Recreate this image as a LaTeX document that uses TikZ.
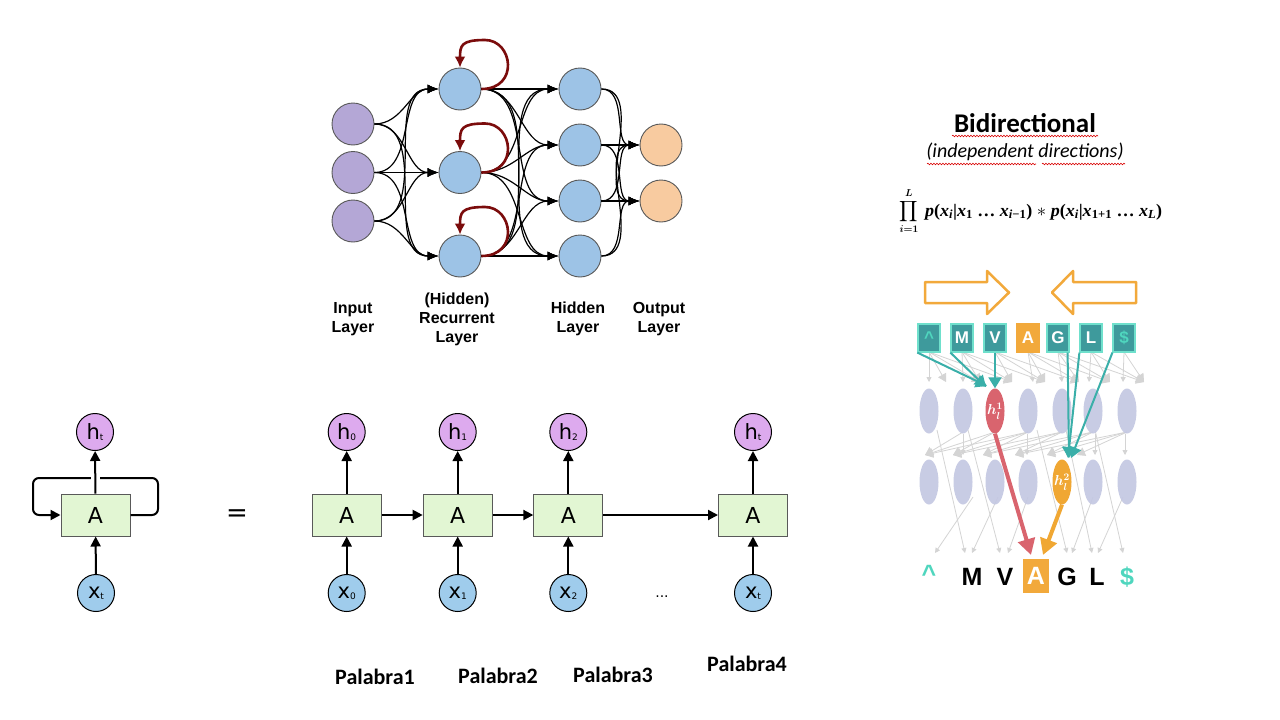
\documentclass[tikz,border=0pt]{standalone}
\usepackage{amsmath}
\usepackage{graphicx}
\usepackage{fontspec}
\setmainfont{Liberation Sans}
\newfontfamily\carlito{Carlito}
\newfontfamily\dejavu{DejaVu Sans}
\newfontfamily\formfont{Liberation Serif}
\usetikzlibrary{arrows.meta,decorations.pathmorphing,shapes.geometric,calc}
\definecolor{inpurple}{HTML}{B4A7D6}
\definecolor{netblue}{HTML}{9DC3E6}
\definecolor{outorange}{HTML}{F8CBA0}
\definecolor{nborder}{HTML}{595959}
\definecolor{loopred}{HTML}{7B0C0C}
\definecolor{hpurple}{HTML}{DDAAEE}
\definecolor{xblue}{HTML}{9FCCEC}
\definecolor{boxgreen}{HTML}{E2F6D3}
\definecolor{borange}{HTML}{F2A93B}
\definecolor{tealbox}{HTML}{3E9A9C}
\definecolor{tealedge}{HTML}{6FE0CC}
\definecolor{teallight}{HTML}{4FD6BE}
\definecolor{tealarrow}{HTML}{3AAFA9}
\definecolor{ellgray}{HTML}{C3C7E2}
\definecolor{hredc}{HTML}{D9646E}
\definecolor{horangec}{HTML}{F0A733}
\definecolor{lgray}{HTML}{D4D4D4}
\tikzset{
  neuron/.style={circle, draw=nborder, line width=0.9pt, minimum size=42pt, inner sep=0pt},
  nin/.style={neuron, fill=inpurple},
  nrec/.style={neuron, fill=netblue},
  nout/.style={neuron, fill=outorange},
  nedge/.style={-{Latex[length=11pt,width=9pt]}, line width=1.2pt, black},
  selfloop/.style={draw=loopred, line width=2.6pt, -{Latex[length=11pt,width=11pt]}},
  lbl/.style={align=center, font=\bfseries\fontsize{16}{19}\selectfont},
  hcirc/.style={circle, draw=black, line width=1pt, fill=hpurple, minimum size=37pt, inner sep=0pt, font=\dejavu},
  xcirc/.style={circle, draw=black, line width=1pt, fill=xblue, minimum size=37pt, inner sep=0pt, font=\dejavu},
  abox/.style={rectangle, draw=nborder, line width=1pt, fill=boxgreen, minimum width=69pt, minimum height=42pt, inner sep=0pt, font=\dejavu\fontsize{22}{22}\selectfont},
  rarr/.style={-{Triangle[length=10pt,width=10pt]}, line width=2pt, black},
  pal/.style={font=\carlito\bfseries\fontsize{22}{24}\selectfont},
  hollowarr/.style={draw=borange, line width=2.5pt, fill=white, line join=round},
  lbox/.style={rectangle, fill=tealbox, draw=tealedge, line width=1.2pt, minimum width=22pt, minimum height=28pt, inner sep=0pt, text=white, font=\bfseries\fontsize{17}{17}\selectfont},
  ellnode/.style={ellipse, fill=ellgray, minimum width=19pt, minimum height=45pt, inner sep=0pt},
  garr/.style={draw=lgray, line width=0.8pt, -{Triangle[length=8pt,width=9pt]}},
  garrs/.style={draw=lgray, line width=0.8pt, -{Triangle[length=5pt,width=5pt]}},
  tarr/.style={draw=tealarrow, line width=2pt, -{Triangle[length=11pt,width=13pt]}},
  bigarr/.style={line width=4pt, -{Triangle[length=16pt,width=17pt]}},
  botl/.style={font=\bfseries\fontsize{25}{25}\selectfont},
  hlab/.style={text=white, font=\fontsize{14}{14}\selectfont, inner sep=0pt},
  squig/.style={draw=red!85!black, line width=0.6pt, decorate, decoration={snake, amplitude=0.8pt, segment length=3pt}}
}
\newcommand{\hsub}[2]{#1\raisebox{-0.05em}{\fontsize{9}{9}\selectfont #2}}
\newcommand{\fmi}[1]{\textit{#1}}
\newcommand{\fsb}[1]{\textsubscript{#1}}
\begin{document}
\begin{tikzpicture}[x=1pt,y=-1pt]
\useasboundingbox (0,0) rectangle (1280,720);
\fill[white] (0,0) rectangle (1280,720);

% ---------------- top network ----------------
\node[nin] (i1) at (353,124) {};
\node[nin] (i2) at (353,172.5) {};
\node[nin] (i3) at (353,221) {};
\node[nrec] (r1) at (460,89) {};
\node[nrec] (r2) at (460,172.5) {};
\node[nrec] (r3) at (460,256) {};
\node[nrec] (d1) at (580,89) {};
\node[nrec] (d2) at (580,145) {};
\node[nrec] (d3) at (580,201) {};
\node[nrec] (d4) at (580,256) {};
\node[nout] (o1) at (661,145) {};
\node[nout] (o2) at (661,201) {};
\foreach \a in {1,2,3}{\foreach \b in {1,2,3}{\draw[nedge] (i\a.east) to[out=0,in=180] (r\b.west);}}
\foreach \a in {1,2,3}{\foreach \b in {1,2,3,4}{\draw[nedge] (r\a.east) to[out=0,in=180] (d\b.west);}}
\foreach \a in {1,2,3,4}{\foreach \b in {1,2}{\draw[nedge] (d\a.east) to[out=0,in=180] (o\b.west);}}
\foreach \rr in {r1,r2,r3}{
  \coordinate (\rr top) at ($(\rr)+(25,-49)$);
  \draw[selfloop] (\rr.east) .. controls +(38,0) and +(28,0) .. (\rr top) .. controls +(-24,0) and +(0,-22) .. (\rr.north);
}
\node[lbl] (lin) at (353,319) {Input\\Layer};
\node[lbl] (lrec) at (457,319) {(Hidden)\\Recurrent\\Layer};
\node[lbl] (lhid) at (578,319) {Hidden\\Layer};
\node[lbl] (lout) at (659,319) {Output\\Layer};

% ---------------- folded RNN ----------------
\node[hcirc] (hL) at (95,432) {\fontsize{21}{21}\selectfont\hsub{h}{t}};
\node[abox] (AL) at (95.5,515) {A};
\node[xcirc] (xL) at (96,593) {\fontsize{21}{21}\selectfont\hsub{x}{t}};
\coordinate (c1) at (158,515);
\coordinate (c2) at (158,478);
\coordinate (c3) at (33,478);
\coordinate (c4) at (33,515);
\draw[rarr, rounded corners=6pt] (AL.east) -- (c1) -- (c2) -- (c3) -- (c4) -- (AL.west);
\fill[white] (91,475) rectangle (100,481);
\draw[rarr] (xL) -- (AL);
\draw[rarr] (AL) -- (hL);
\node (eq) at (237,516) {\dejavu\fontsize{26}{26}\selectfont =};

% ---------------- unrolled RNN ----------------
\foreach \n/\xx/\s in {0/346.7/0, 1/457.7/1, 2/568.3/2, t/753/t}{
  \node[hcirc] (h\n) at (\xx,432) {\fontsize{21}{21}\selectfont\hsub{h}{\s}};
  \node[abox] (A\n) at (\xx,515) {A};
  \node[xcirc] (x\n) at (\xx,593) {\fontsize{21}{21}\selectfont\hsub{x}{\s}};
  \draw[rarr] (x\n) -- (A\n);
  \draw[rarr] (A\n) -- (h\n);
}
\draw[rarr] (A0) -- (A1);
\draw[rarr] (A1) -- (A2);
\draw[rarr] (A2) -- (At);
\node (dots) at (662,597) {\dejavu\fontsize{14}{14}\selectfont ...};
\node[pal] (p1) at (375,677) {Palabra1};
\node[pal] (p2) at (498,676) {Palabra2};
\node[pal] (p3) at (613,675) {Palabra3};
\node[pal] (p4) at (747,664) {Palabra4};

% ---------------- bidirectional ----------------
\node (bt) at (1025,123) {\carlito\bfseries\fontsize{27}{27}\selectfont Bidirectional};
\node (bs) at (1025,152) {\carlito\itshape\fontsize{20}{20}\selectfont (independent directions)};
\draw[squig] (952,136) -- (1098,136);
\draw[squig] (927,164) -- (1036,164);
\draw[squig] (1042,164) -- (1125,164);
\node[inner sep=0pt] (prodsym) at (909,211) {\fontsize{14}{14}\selectfont$\displaystyle\prod_{\boldsymbol{i=1}}^{\boldsymbol{L}}$};
\node[anchor=west, inner sep=0pt] (formula) at (925,212) {\resizebox*{237pt}{16pt}{\formfont\bfseries\fontsize{20}{20}\selectfont \fmi{p}(\fmi{x}\fsb{\fmi{i}}|\fmi{x}\fsb{1} … \fmi{x}\fsb{\fmi{i}−1}) $*$ \fmi{p}(\fmi{x}\fsb{\fmi{i}}|\fmi{x}\fsb{1+1} … \fmi{x}\fsb{\fmi{L}})}};

\draw[hollowarr] (925,282) -- (987,282) -- (987,271) -- (1009,292.5) -- (987,314) -- (987,303) -- (925,303) -- cycle;
\draw[hollowarr] (1136,282) -- (1073,282) -- (1073,271) -- (1052,292.5) -- (1073,314) -- (1073,303) -- (1136,303) -- cycle;

% gray arrows level A (boxes -> layer 1)
\coordinate (bb1) at (929,352);
\coordinate (bb2) at (962,352);
\coordinate (bb3) at (995,352);
\coordinate (bb4) at (1028,352);
\coordinate (bb5) at (1058,352);
\coordinate (bb6) at (1091,352);
\coordinate (bb7) at (1124,352);
\foreach \k/\xx in {1/929,2/963,4/1033,5/1062,6/1089,7/1123}{
  \draw[garrs] (bb\k) -- (\xx,382);
}
\foreach \k/\tx in {1/946,1/980,1/1012,2/980,2/1012,2/1045,3/1012,3/1045,3/1079,4/1045,4/1079,4/1110,5/1079,5/1110,5/1144,6/1110,6/1144,7/1144}{
  \draw[garr] (bb\k) -- (\tx,382);
}
% gray arrows level B (layer1 -> layer2, leftwards)
\foreach \sx/\tx in {963/925,995/925,995/953,1028/953,1028/983,1062/983,1062/1015,1093/1015,1093/1047,1127/1047,1127/1077,1028/925,1062/953,1093/983,1127/1015}{
  \draw[garr] (\sx,432) -- (\tx,455);
}
\foreach \xx in {963,1027,1095,1125}{\draw[garrs] (\xx,434) -- (\xx,455);}
% gray arrows level C (to bottom letters)
\foreach \ua/\ub in {937/965,968/1000,1037/1067,1066/1092,1095/1123}{\draw[garrs] (\ua,430) -- (\ub,553);}
\foreach \ua/\ub in {973/935,998/972,1028/1008,1093/1072,1123/1098}{\draw[garrs] (\ua,497) -- (\ub,553);}

% layer ellipses
\node[ellnode, fill opacity=0.9] (ea1) at (929,411) {};
\node[ellnode, fill opacity=0.9] (ea2) at (963,411) {};
\node[ellnode, fill=hredc] (ea3) at (995,411) {};
\node[ellnode, fill opacity=0.9] (ea4) at (1028,411) {};
\node[ellnode, fill opacity=0.9] (ea5) at (1062,411) {};
\node[ellnode, fill opacity=0.9] (ea6) at (1093,411) {};
\node[ellnode, fill opacity=0.9] (ea7) at (1127,411) {};
\node[hlab] (h1lab) at (995,411) {$\boldsymbol{h_l^1}$};
\node[ellnode, fill opacity=0.9] (eb1) at (929,482) {};
\node[ellnode, fill opacity=0.9] (eb2) at (963,482) {};
\node[ellnode, fill opacity=0.9] (eb3) at (995,482) {};
\node[ellnode, fill opacity=0.9] (eb4) at (1028,482) {};
\node[ellnode, fill=horangec] (eb5) at (1062,482) {};
\node[ellnode, fill opacity=0.9] (eb6) at (1093,482) {};
\node[ellnode, fill opacity=0.9] (eb7) at (1127,482) {};
\node[hlab] (h2lab) at (1062,482) {$\boldsymbol{h_l^2}$};

% letter boxes
\node[lbox, text=teallight] (b1) at (929,338) {\textasciicircum};
\node[lbox] (b2) at (962,338) {M};
\node[lbox] (b3) at (995,338) {V};
\node[lbox, fill=borange, draw=borange] (b4) at (1028,338) {A};
\node[lbox] (b5) at (1058,338) {G};
\node[lbox] (b6) at (1091,338) {L};
\node[lbox, text=teallight] (b7) at (1124,338) {\$};

% teal arrows
\coordinate (t1) at (987,386);
\coordinate (t2) at (986,387);
\coordinate (t5) at (1069,458);
\coordinate (t6) at (1068,458);
\coordinate (t7) at (1071,458);
\draw[tarr] (b1.south west) -- (t1);
\draw[tarr] (b2.south west) -- (t2);
\draw[tarr] (b3.south) -- (ea3.north);
\draw[tarr] ($(b5.south east)+(-2,0)$) -- (t5);
\draw[tarr] (b6.south west) -- (t6);
\draw[tarr] (b7.south west) -- (t7);

% big arrows
\coordinate (redtip) at (1031,555);
\coordinate (ortip) at (1043,555);
\draw[bigarr, draw=hredc] (ea3.south) -- (redtip);
\draw[bigarr, draw=horangec] (eb5.south) -- (ortip);

% bottom letters
\node[botl, text=teallight] (o1l) at (929,574) {\textasciicircum};
\node[botl] (o2l) at (972,577) {M};
\node[botl] (o3l) at (1005,577) {V};
\node[rectangle, fill=borange, minimum width=26pt, minimum height=34pt, inner sep=0pt, botl, text=white] (o4l) at (1036,576) {A};
\node[botl] (o5l) at (1067,577) {G};
\node[botl] (o6l) at (1097,577) {L};
\node[botl, text=teallight] (o7l) at (1127,577) {\$};
\end{tikzpicture}
\end{document}
